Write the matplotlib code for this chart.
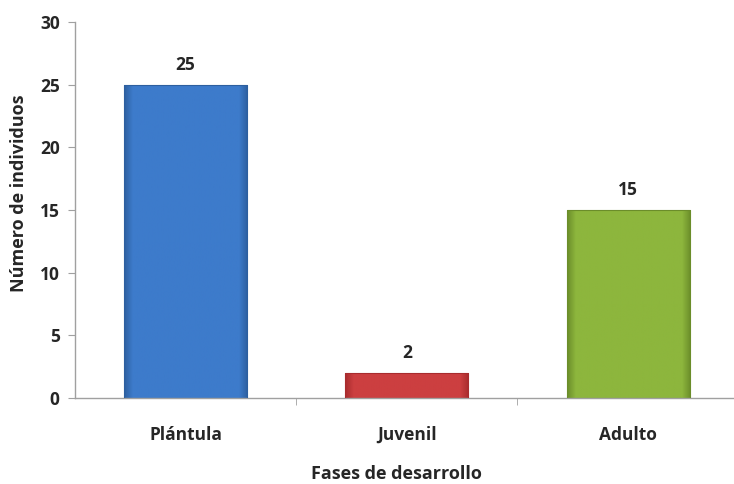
import numpy as np
import matplotlib
matplotlib.use("Agg")
import matplotlib.pyplot as plt
from matplotlib.colors import LinearSegmentedColormap

categories = ["Plántula", "Juvenil", "Adulto"]
values = [25, 2, 15]
yticks = [0, 5, 10, 15, 20, 25, 30]

colors = [("#2d5f9f", "#3d7bcb"), ("#a82c2e", "#cc3f40"), ("#6b8d2a", "#8db63d")]

plt.rcParams['font.family'] = ['Open Sans', 'DejaVu Sans']
W, H = 734, 484
fig = plt.figure(figsize=(W/100, H/100), dpi=100)
ax = fig.add_axes([75/W, 86/H, 659/W, 376/H])

x = np.arange(len(categories))
bw = 0.556
bars = ax.bar(x, values, width=bw, color="none", edgecolor="none", zorder=2)
for b, (dark, light) in zip(bars, colors):
    cmap = LinearSegmentedColormap.from_list(
        "g", [(0, dark), (0.07, light), (0.93, light), (1, dark)])
    grad = np.linspace(0, 1, 256).reshape(1, -1)
    x0, y0 = b.get_x(), b.get_y()
    w, h = b.get_width(), b.get_height()
    im = ax.imshow(grad, cmap=cmap, aspect="auto", extent=[x0, x0 + w, y0, y0 + h], zorder=2)
    im.set_clip_path(b)
    ax.add_patch(plt.Rectangle((x0, y0), w, h, fill=False, edgecolor=dark, linewidth=0.8, zorder=3))

txt = "#262626"
fs = 12.5
for xi, v in zip(x, values):
    ax.annotate(str(v), (xi, v), xytext=(0, 8), textcoords="offset points",
                ha="center", va="bottom", fontsize=fs, fontweight="bold", color=txt)

ax.set_xlim(-0.4994, 2.479)
ax.set_ylim(0, 30)
ax.set_yticks(yticks)
ax.set_xticks(x)
ax.set_xticks([0.5, 1.5], minor=True)
ax.set_xticklabels(categories, fontsize=fs, fontweight="bold", color=txt)
ax.tick_params(axis="x", which="major", length=0, pad=20)
ax.tick_params(axis="x", which="minor", length=5, color="#a0a0a0")
ax.tick_params(axis="y", length=5, color="#a0a0a0", labelsize=fs, labelcolor=txt, pad=6)
for lab in ax.get_yticklabels():
    lab.set_fontweight("bold")
for s in ["top", "right"]:
    ax.spines[s].set_visible(False)
for s in ["left", "bottom"]:
    ax.spines[s].set_color("#a0a0a0")
    ax.spines[s].set_linewidth(1)

fig.text(19/W, 1 - 193/H, "Número de individuos", rotation=90, ha="center", va="center",
         fontsize=13, fontweight="bold", color=txt)
fig.text(396/W, 1 - 474/H, "Fases de desarrollo", ha="center", va="center",
         fontsize=13, fontweight="bold", color=txt)
fig.savefig("out.png", dpi=100)
